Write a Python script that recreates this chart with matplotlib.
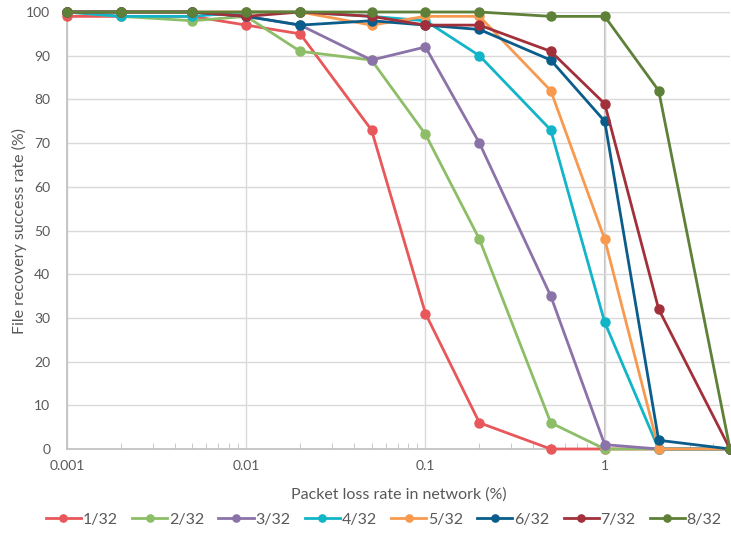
import matplotlib
matplotlib.use("Agg")
import matplotlib.pyplot as plt
from matplotlib.ticker import FixedLocator, NullFormatter

plt.rcParams['font.family'] = ['Lato', 'DejaVu Sans']

loss_rate = [0.001, 0.002, 0.005, 0.01, 0.02, 0.05, 0.1, 0.2, 0.5, 1, 2, 5]
labels = ["1/32", "2/32", "3/32", "4/32", "5/32", "6/32", "7/32", "8/32"]
r1 = [99, 99, 99, 97, 95, 73, 31, 6, 0, 0, 0, 0]
r2 = [100, 99, 98, 99, 91, 89, 72, 48, 6, 0, 0, 0]
r3 = [100, 100, 100, 99, 97, 89, 92, 70, 35, 1, 0, 0]
r4 = [100, 99, 99, 100, 100, 99, 98, 90, 73, 29, 0, 0]
r5 = [100, 100, 100, 100, 100, 97, 99, 99, 82, 48, 0, 0]
r6 = [100, 100, 100, 99, 97, 98, 97, 96, 89, 75, 2, 0]
r7 = [100, 100, 100, 99, 100, 99, 97, 97, 91, 79, 32, 0]
r8 = [100, 100, 100, 100, 100, 100, 100, 100, 99, 99, 82, 0]
series = [r1, r2, r3, r4, r5, r6, r7, r8]
colors = ["#E8575A", "#8DBE67", "#8B73A9", "#12B4C8", "#F79A50",
          "#0A5D8A", "#A2303A", "#5E8038"]

fig = plt.figure(figsize=(7.31, 5.44), dpi=100)
ax = fig.add_axes([67/731, 1-449/544, 663/731, 437/544])

for vals, lab, c in zip(series, labels, colors):
    ax.plot(loss_rate, vals, color=c, lw=2, marker="o", ms=6.5, label=lab,
            clip_on=False, zorder=3)

ax.set_xscale("log")
ax.set_xlim(0.001, 5)
ax.set_ylim(0, 100)
ax.set_yticks(range(0, 101, 10))
ax.xaxis.set_major_locator(FixedLocator([0.001, 0.01, 0.1, 1]))
ax.set_xticklabels(["0.001", "0.01", "0.1", "1"])
minors = [m * 10.0**e for e in range(-3, 1) for m in range(2, 10)]
ax.xaxis.set_minor_locator(FixedLocator(minors))
ax.xaxis.set_minor_formatter(NullFormatter())
ax.tick_params(axis="x", which="major", length=0, pad=8, colors="#595959", labelsize=10)
ax.tick_params(axis="x", which="minor", direction="in", length=4, color="#BFBFBF")
ax.tick_params(axis="y", length=0, pad=12, colors="#595959", labelsize=10)

ax.grid(True, which="major", color="#D9D9D9", lw=1, zorder=0)
ax.axvline(1, color="#BFBFBF", lw=1.5, zorder=1)
for s in ["top", "right"]:
    ax.spines[s].set_visible(False)
for s in ["left", "bottom"]:
    ax.spines[s].set_color("#BFBFBF")
    ax.spines[s].set_linewidth(1.2)

ax.set_xlabel("Packet loss rate in network (%)", fontsize=11.5, color="#595959", labelpad=11)
ax.set_ylabel("File recovery success rate (%)", fontsize=11.5, color="#595959")
ax.yaxis.set_label_coords(-40/663, 0.5)

fig.legend(loc="lower center", bbox_to_anchor=(0.525, 0.005), ncol=8, frameon=False,
           fontsize=11.5, labelcolor="#595959", handlelength=2.2, handletextpad=0.1,
           columnspacing=0.9, markerscale=0.8)

fig.savefig("out.png", dpi=100)
